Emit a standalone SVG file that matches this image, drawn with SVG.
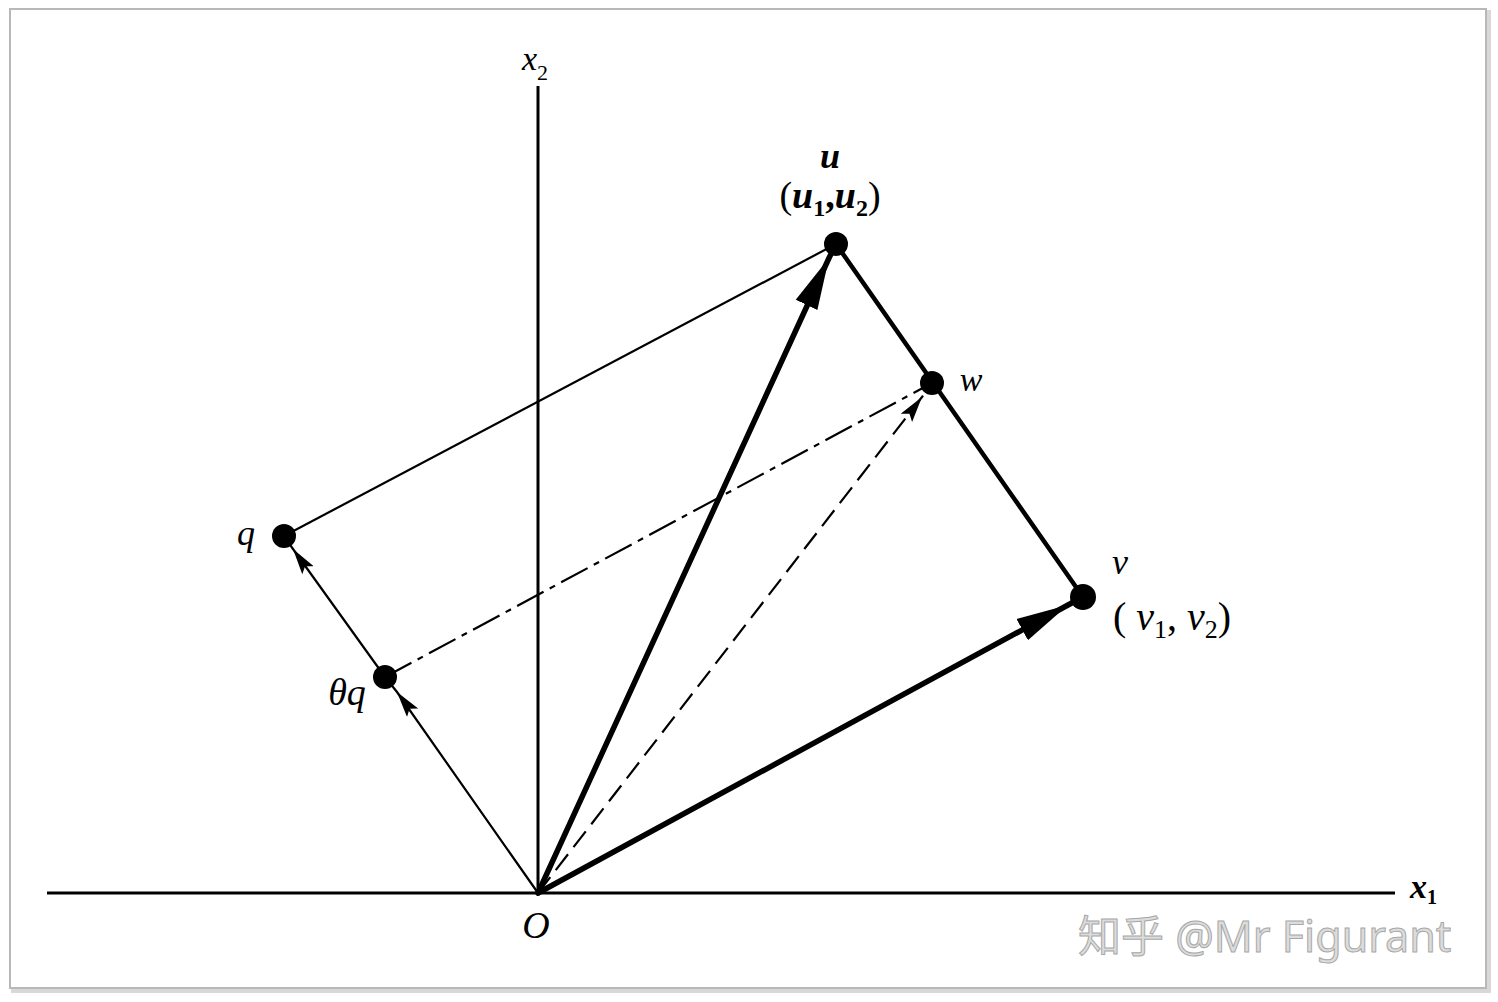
<svg xmlns="http://www.w3.org/2000/svg" width="1498" height="1002" viewBox="0 0 1498 1002">
<style>
.lbl{font-family:"Liberation Serif","DejaVu Serif",serif;font-style:italic;fill:#000}
.thick{stroke:#000;stroke-width:5.5;fill:none;stroke-linecap:round}
.thin{stroke:#000;stroke-width:2.2;fill:none}
.axis{stroke:#000;stroke-width:3;fill:none}
.dot{fill:#000}
.wm{font-family:"Noto Sans","Noto Sans CJK SC",sans-serif;font-size:43px;fill:#dcdcdc;stroke:#a8a8a8;stroke-width:1}
</style>
<defs>
<marker id="bigArrow" markerUnits="userSpaceOnUse" markerWidth="60" markerHeight="30" refX="52" refY="13" orient="auto" viewBox="0 0 60 30">
<path d="M0,1 L52,13 L0,25 Z" fill="#000"/>
</marker>
<marker id="smallArrow" markerUnits="userSpaceOnUse" markerWidth="30" markerHeight="16" refX="26" refY="7" orient="auto" viewBox="0 0 30 16">
<path d="M0,0 L26,7 L0,14 L5,7 Z" fill="#000"/>
</marker>
</defs>
<rect width="1498" height="1002" fill="#fff"/>
<g id="frame">
<rect x="13" y="12" width="1476" height="979" fill="none" stroke="#d8d8d8" stroke-width="4"/>
<rect x="10" y="9" width="1476" height="979" fill="#fff" stroke="#b8b8b8" stroke-width="2"/>
</g>
<g id="connectors">
<line id="x1-axis" class="axis" x1="47" y1="893" x2="1395" y2="893"/>
<line id="x2-axis" class="axis" x1="538" y1="893" x2="538" y2="86"/>
<line class="thin" x1="836" y1="244" x2="284" y2="536"/>
<line class="thick" x1="836" y1="244" x2="1083" y2="597" style="stroke-width:4.5"/>
<line class="thin" x1="385" y1="677" x2="932" y2="383" stroke-dasharray="30 7 6 7"/>
<polyline class="thick" points="538,893 829,258 836,244" marker-mid="url(#bigArrow)"/>
<polyline class="thick" points="538,893 1068,605 1083,597" marker-mid="url(#bigArrow)"/>
<polyline class="thin" points="538,893 922,397 932,383" stroke-dasharray="20 9" marker-mid="url(#smallArrow)"/>
<polyline class="thin" points="538,893 397,692 385,677" marker-mid="url(#smallArrow)"/>
<polyline class="thin" points="385,677 293,549 284,536" marker-mid="url(#smallArrow)"/>
</g>
<g id="node-O"><text class="lbl" x="536" y="938" font-size="38" text-anchor="middle">O</text></g>
<g id="node-x1"><text class="lbl" x="1410" y="898" font-size="34" font-weight="bold">x<tspan font-size="20" dy="6" font-style="normal">1</tspan></text></g>
<g id="node-x2"><text class="lbl" x="522" y="70" font-size="34">x<tspan font-size="22" dy="10" font-style="normal">2</tspan></text></g>
<g id="node-u">
<circle class="dot" cx="836" cy="244" r="12"/>
<text class="lbl" x="830" y="168" font-size="36" font-weight="bold" text-anchor="middle">u</text>
<text class="lbl" x="830" y="208" font-size="38" font-weight="bold" text-anchor="middle"><tspan font-style="normal" font-weight="normal">(</tspan>u<tspan font-size="24" dy="8" font-style="normal">1</tspan><tspan dy="-8" font-style="normal">,</tspan>u<tspan font-size="24" dy="8" font-style="normal">2</tspan><tspan dy="-8" font-style="normal" font-weight="normal">)</tspan></text>
</g>
<g id="node-v">
<circle class="dot" cx="1083" cy="597" r="13"/>
<text class="lbl" x="1120" y="574" font-size="36" text-anchor="middle">v</text>
<text class="lbl" x="1172" y="630" font-size="40" text-anchor="middle"><tspan font-style="normal">( </tspan>v<tspan font-size="26" dy="8" font-style="normal">1</tspan><tspan dy="-8" font-style="normal">, </tspan>v<tspan font-size="26" dy="8" font-style="normal">2</tspan><tspan dy="-8" font-style="normal">)</tspan></text>
</g>
<g id="node-w">
<circle class="dot" cx="932" cy="383" r="12"/>
<text class="lbl" x="971" y="391" font-size="34" text-anchor="middle">w</text>
</g>
<g id="node-q">
<circle class="dot" cx="284" cy="536" r="12"/>
<text class="lbl" x="246" y="545" font-size="36" text-anchor="middle">q</text>
</g>
<g id="node-thetaq">
<circle class="dot" cx="385" cy="677" r="12"/>
<text class="lbl" x="347" y="705" font-size="38" text-anchor="middle">θq</text>
</g>
<g id="watermark"><text class="wm" x="1078" y="952">知乎 @Mr Figurant</text></g>
</svg>
